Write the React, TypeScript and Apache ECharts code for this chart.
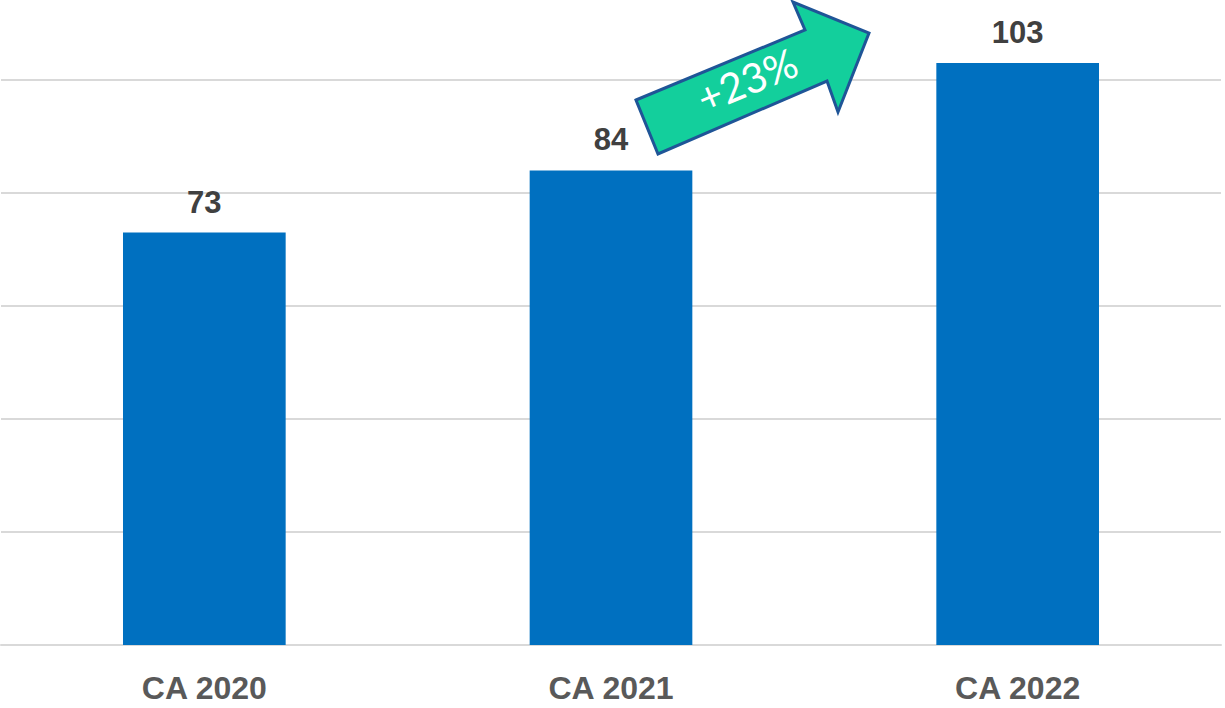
import React, { useEffect, useRef } from "react";
import * as echarts from "echarts";

const categories = ["CA 2020", "CA 2021", "CA 2022"];
const values = [73, 84, 103];
const growthLabel = "+23%";

export default function App() {
  const ref = useRef<HTMLDivElement>(null);
  useEffect(() => {
    if (!ref.current) return;
    const chart = echarts.init(ref.current, null, { renderer: "svg" });
    chart.setOption({
      animation: false,
      backgroundColor: "#ffffff",
      grid: { left: 1, right: 4, top: 80, bottom: 63, containLabel: false },
      xAxis: {
        type: "category",
        data: categories,
        axisLine: { show: true, lineStyle: { color: "#d9d9d9", width: 2 } },
        axisTick: { show: false },
        axisLabel: {
          color: "#595959",
          fontSize: 32,
          fontWeight: "bold",
          fontFamily: "Liberation Sans, Arial, sans-serif",
          margin: 27,
        },
      },
      yAxis: {
        type: "value",
        min: 0,
        max: 100,
        interval: 20,
        axisLine: { show: false },
        axisTick: { show: false },
        axisLabel: { show: false },
        splitLine: { lineStyle: { color: "#d9d9d9", width: 2 } },
      },
      series: [
        {
          type: "bar",
          data: values,
          barWidth: "40%",
          clip: false,
          itemStyle: { color: "#0070C0" },
          label: {
            show: true,
            position: "top",
            distance: 15,
            color: "#404040",
            fontSize: 31,
            fontWeight: "bold",
            fontFamily: "Liberation Sans, Arial, sans-serif",
          },
        },
      ],
      graphic: [
        {
          type: "polygon",
          shape: {
            points: [
              [636, 100],
              [805, 30],
              [793, 2],
              [869, 33],
              [838, 112],
              [827, 81],
              [658, 154],
            ],
          },
          style: { fill: "#13CF9C", stroke: "#1F5597", lineWidth: 3, lineJoin: "miter" },
          z: 10,
        },
        {
          type: "text",
          x: 747,
          y: 80,
          rotation: (22.5 * Math.PI) / 180,
          style: {
            text: growthLabel,
            fill: "#ffffff",
            fontSize: 41,
            fontFamily: "Lato, sans-serif",
            fontWeight: 400,
            align: "center",
            verticalAlign: "middle",
          },
          z: 11,
        },
      ],
    });
    return () => chart.dispose();
  }, []);
  return (
    <div
      ref={ref}
      style={{ position: "absolute", left: 0, top: 0, width: 1225, height: 708 }}
    />
  );
}
